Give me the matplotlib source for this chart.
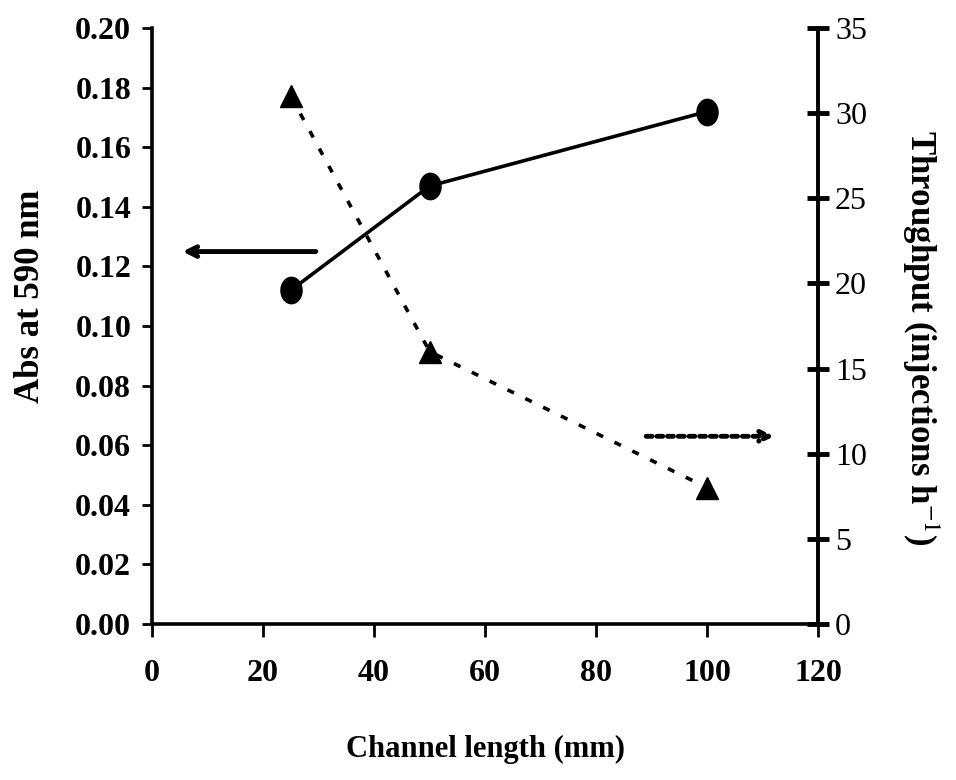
import matplotlib.pyplot as plt
from matplotlib.path import Path
import numpy as np

# dados
comprimento = [25, 50, 100]
absorbancia = [0.112, 0.147, 0.172]
throughput = [31, 16, 8]

x_ticks = [0, 20, 40, 60, 80, 100, 120]
abs_ticks = [0.00, 0.02, 0.04, 0.06, 0.08, 0.10, 0.12, 0.14, 0.16, 0.18, 0.20]
thr_ticks = [0, 5, 10, 15, 20, 25, 30, 35]

plt.rcParams['font.family'] = ['Liberation Serif', 'DejaVu Serif']
plt.rcParams['mathtext.fontset'] = 'stix'

# marcador eliptico (mais alto que largo)
t = np.linspace(0, 2 * np.pi, 40)
elipse = Path(np.column_stack([0.8 * np.cos(t), np.sin(t)]), closed=True)

fig = plt.figure(figsize=(9.56, 7.8), dpi=100)
ax = fig.add_axes([0.159, 0.2, 0.697, 0.764])
ax2 = ax.twinx()

ax.plot(comprimento, absorbancia, color='black', lw=2.6, marker=elipse,
        markersize=19, zorder=3)
ax2.plot(comprimento, throughput, color='black', lw=2.6, ls=(0, (2, 3.5)),
         marker='^', markersize=16, zorder=3)

# setas indicando os eixos
ax.annotate('', xy=(5, 0.125), xytext=(30, 0.125),
            arrowprops=dict(arrowstyle='->,head_length=0.7,head_width=0.35',
                            color='black', lw=3.5))
ax.annotate('', xy=(112.5, 0.063), xytext=(88.5, 0.063),
            arrowprops=dict(arrowstyle='->,head_length=0.7,head_width=0.35',
                            color='black', lw=3.5, ls=(0, (1.2, 1.0))))

ax.set_xlim(0, 120)
ax.set_ylim(0, 0.20)
ax2.set_ylim(0, 35)
ax.set_xticks(x_ticks)
ax.set_yticks(abs_ticks)
ax2.set_yticks(thr_ticks)
ax.set_xticklabels([str(v) for v in x_ticks], fontweight='bold')
ax.set_yticklabels(['%.2f' % v for v in abs_ticks], fontweight='bold')
ax2.set_yticklabels([str(v) for v in thr_ticks])

ax.spines['top'].set_visible(False)
ax.spines['right'].set_visible(False)
ax2.spines['top'].set_visible(False)
ax2.spines['left'].set_visible(False)
ax2.spines['bottom'].set_visible(False)
for s in ['left', 'bottom']:
    ax.spines[s].set_linewidth(2.6)
ax2.spines['right'].set_linewidth(2.8)

ax.tick_params(axis='x', direction='out', length=9, width=2, labelsize=23, pad=16)
ax.tick_params(axis='y', direction='out', length=7, width=2, labelsize=23, pad=8)
ax2.tick_params(axis='y', direction='inout', length=16, width=3.5, labelsize=23, pad=4)

ax.set_xlabel('Channel length (mm)', fontsize=22, fontweight='bold', labelpad=34)
ax.set_ylabel('Abs at 590 nm', fontsize=25, fontweight='bold')
ax2.set_ylabel('Throughput (injections h$^{\\mathrm{-1}}$)', fontsize=25,
               fontweight='bold', rotation=-90)
ax.yaxis.set_label_coords(-0.157, 0.55)
ax2.yaxis.set_label_coords(1.185, 0.48)

fig.savefig('out.png', dpi=100)
